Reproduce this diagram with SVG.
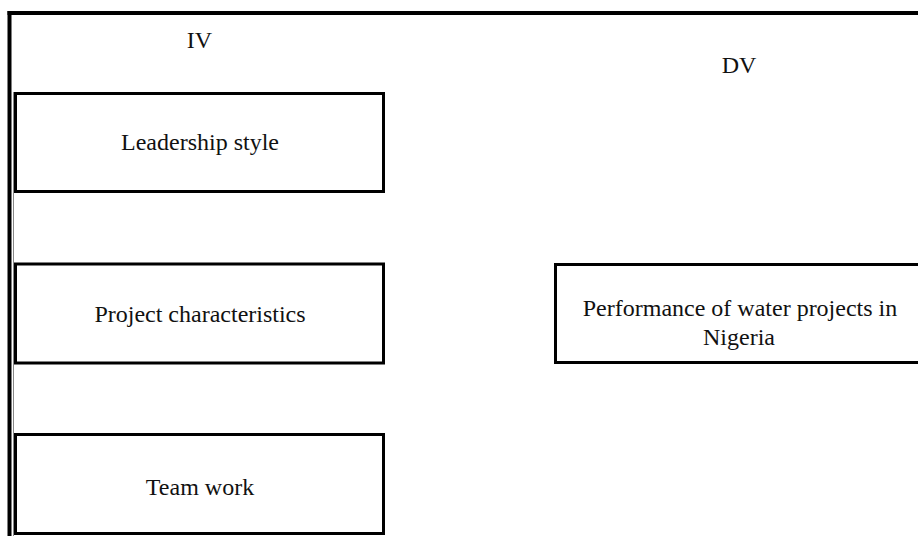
<svg xmlns="http://www.w3.org/2000/svg" width="918" height="536" viewBox="0 0 918 536">
<style>
.box{fill:#fff;stroke:#000;stroke-width:3}
.t{font-family:"Liberation Serif","Times New Roman",serif;font-size:24px;fill:#111;text-anchor:middle}
</style>
<rect width="918" height="536" fill="#fff"/>
<g id="frame">
<line x1="7.5" y1="13" x2="918" y2="13" stroke="#000" stroke-width="4"/>
<line x1="9.5" y1="11" x2="9.5" y2="536" stroke="#000" stroke-width="4"/>
<line x1="13.5" y1="92" x2="13.5" y2="536" stroke="#888" stroke-width="1"/>
</g>
<text class="t" x="199.5" y="48">IV</text>
<text class="t" x="739" y="73">DV</text>
<g id="leadership">
<rect class="box" x="15.5" y="93.5" width="368" height="98"/>
<text class="t" x="200" y="150">Leadership style</text>
</g>
<g id="project">
<rect class="box" x="15.5" y="264" width="368" height="99"/>
<text class="t" x="200" y="322">Project characteristics</text>
</g>
<g id="teamwork">
<rect class="box" x="15.5" y="434.5" width="368" height="99"/>
<text class="t" x="200" y="495">Team work</text>
</g>
<g id="performance">
<rect class="box" x="555.5" y="264.5" width="400" height="98"/>
<text class="t" x="740" y="316">Performance of water projects in</text>
<text class="t" x="739" y="345">Nigeria</text>
</g>
<g id="connectors"></g>
</svg>
